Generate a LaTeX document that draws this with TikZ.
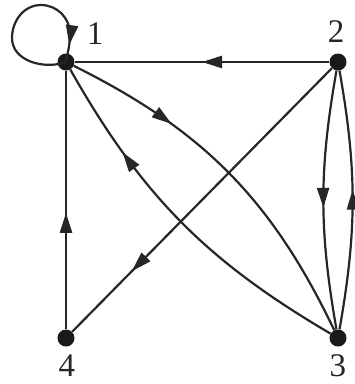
\documentclass[tikz,border=0pt]{standalone}
\usepackage{fontspec}
\setmainfont{Liberation Serif}
\usetikzlibrary{arrows.meta,decorations.markings}
\begin{document}
\begin{tikzpicture}[x=1pt,y=1pt,
  vtx/.style={circle,fill=black!90,inner sep=0pt,minimum size=17pt},
  lbl/.style={inner sep=0pt,font=\fontsize{33}{33}\selectfont,text=black!85},
  edg/.style={draw=black!85,line width=2.2pt},
  midarrow/.style={postaction={decorate},decoration={markings,
     mark=at position #1 with {\arrow{Triangle[length=20pt,width=12pt]}}}}]
\useasboundingbox (0,0) rectangle (355,-384);
\node[vtx] (n1) at (66,-62) {};
\node[vtx] (n2) at (338,-62) {};
\node[vtx] (n3) at (338,-338) {};
\node[vtx] (n4) at (66,-338) {};
\node[lbl] (l1) at (95,-34) {1};
\node[lbl] (l2) at (336,-32) {2};
\node[lbl] (l3) at (338,-366) {3};
\node[lbl] (l4) at (67,-366) {4};
% loop at 1
\coordinate (lpL) at (12,-38);
\coordinate (lpT) at (41,-5);
\coordinate (lpR) at (70,-34);
\draw[edg,midarrow=0.91] (n1.center) to[out=200,in=270] (lpL)
   to[out=90,in=180] (lpT) to[out=0,in=90] (lpR) to[out=270,in=80] (n1.center);
% edges
\draw[edg,line width=2.6pt,midarrow=0.5] (n2) -- (n1);
\draw[edg,line width=2.6pt,midarrow=0.45] (n4) -- (n1);
\draw[edg,midarrow=0.77] (n2) -- (n4);
\draw[edg,midarrow=0.3] (n1) to[bend left=19] (n3);
\draw[edg,midarrow=0.74] (n3) to[bend left=15] (n1);
\draw[edg,midarrow=0.53] (n2) to[bend right=10] (n3);
\draw[edg,midarrow=0.54] (n3) to[bend right=10] (n2);
\end{tikzpicture}
\end{document}
